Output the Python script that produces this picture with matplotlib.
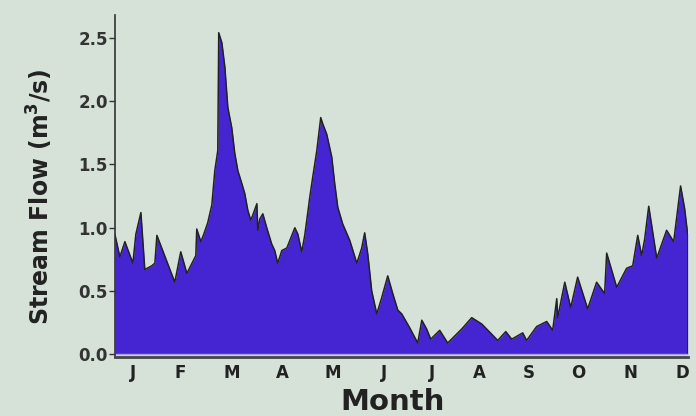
import numpy as np
import matplotlib.pyplot as plt

# daily stream flow (day of year, m3/s)
days = [0, 3.2, 6.4, 11.5, 13.4, 16.6, 19.1, 23.6, 25.5, 26.8, 38.2, 42.0, 45.9,
        51.6, 52.2, 54.8, 56.7, 59.2, 61.8, 63.7, 65.6, 66.2, 68.2, 70.1, 72.0,
        74.5, 76.4, 78.4, 80.9, 82.8, 84.7, 86.6, 87.9, 90.5, 91.1, 92.4, 94.3,
        96.8, 100.0, 101.9, 103.8, 106.4, 109.6, 114.7, 116.6, 119.1, 121.0,
        122.3, 124.2, 126.1, 128.7, 131.2, 132.5, 135.0, 138.2, 140.1, 142.1,
        145.2, 149.7, 154.2, 157.3, 159.2, 161.2, 163.7, 166.9, 170.1, 173.9,
        177.1, 180.3, 182.8, 187.9, 193.0, 195.6, 198.7, 201.3, 207.0, 212.1,
        221.0, 227.4, 233.8, 240.1, 244.0, 249.1, 252.9, 259.9, 262.4, 268.8,
        275.2, 279.0, 281.6, 282.2, 286.7, 290.5, 294.9, 301.3, 307.0, 312.1,
        313.4, 319.8, 326.1, 330.0, 333.2, 335.7, 337.6, 340.2, 345.3, 351.6,
        356.1, 360.5, 363.1, 365.0]
flow = [0.95, 0.77, 0.89, 0.72, 0.95, 1.12, 0.67, 0.70, 0.72, 0.94, 0.57, 0.81, 0.64,
        0.78, 0.99, 0.89, 0.95, 1.04, 1.18, 1.45, 1.61, 2.54, 2.46, 2.27, 1.95,
        1.79, 1.59, 1.45, 1.35, 1.27, 1.14, 1.06, 1.10, 1.19, 0.98, 1.07, 1.11,
        1.00, 0.87, 0.82, 0.72, 0.82, 0.84, 1.00, 0.95, 0.81, 0.94,
        1.06, 1.24, 1.40, 1.61, 1.87, 1.82, 1.74, 1.56, 1.35, 1.16,
        1.03, 0.90, 0.72, 0.84, 0.96, 0.79, 0.50, 0.32, 0.45, 0.62,
        0.48, 0.35, 0.32, 0.21, 0.09, 0.27, 0.20, 0.12, 0.19, 0.09,
        0.20, 0.29, 0.24, 0.16, 0.11, 0.18, 0.12, 0.17, 0.11, 0.22,
        0.26, 0.19, 0.44, 0.29, 0.57, 0.37, 0.61, 0.36, 0.57, 0.48,
        0.80, 0.53, 0.68, 0.70, 0.94, 0.78, 0.91, 1.17, 0.76, 0.98,
        0.89, 1.33, 1.15, 0.95]

month_labels = ['J', 'F', 'M', 'A', 'M', 'J', 'J', 'A', 'S', 'O', 'N', 'D']
month_pos = [11.5, 41.4, 74.5, 107.0, 138.9, 171.4, 201.9, 232.5, 263.7, 295.6, 328.7, 361.8]
yticks = [0.0, 0.5, 1.0, 1.5, 2.0, 2.5]

plt.rcParams['font.family'] = ['DejaVu Sans']
plt.rcParams['mathtext.default'] = 'bf'

bg = '#d6e2d8'
fig = plt.figure(figsize=(6.96, 4.16), dpi=100, facecolor=bg)
ax = fig.add_axes([0.165, 0.142, 0.823, 0.822])
ax.set_facecolor(bg)

ax.fill_between(days, flow, 0, color='#4425d1', lw=0)
ax.plot(days, flow, color='#222222', lw=1.1)
ax.plot([days[-1], days[-1]], [0, flow[-1]], color='#222222', lw=1.2)
ax.axhline(0, color='#a89ee6', lw=1.0)

ax.set_xlim(0, 365)
ax.set_ylim(-0.02, 2.68)

for s in ['top', 'right']:
    ax.spines[s].set_visible(False)
ax.spines['left'].set_color('#333333')
ax.spines['bottom'].set_color('#444444')
ax.spines['left'].set_linewidth(1.2)
ax.spines['bottom'].set_linewidth(2.0)

ax.set_yticks(yticks)
ax.set_yticklabels(['%.1f' % v for v in yticks], fontsize=12, fontweight='bold', color='#333333')
ax.tick_params(axis='y', length=4, width=1, color='#333333', pad=1)

ax.set_xticks(month_pos)
ax.set_xticklabels(month_labels, fontsize=12, fontweight='bold', color='#222222')
ax.tick_params(axis='x', length=0, pad=5)

ax.set_xlabel('Month', fontsize=21, fontweight='bold', color='#222222')
ax.xaxis.set_label_coords(0.485, -0.09)
ax.set_ylabel('Stream Flow (m$^3$/s)', fontsize=17, fontweight='bold', color='#222222')
ax.yaxis.set_label_coords(-0.105, 0.47)

fig.savefig('out.png', dpi=100, facecolor=bg)
